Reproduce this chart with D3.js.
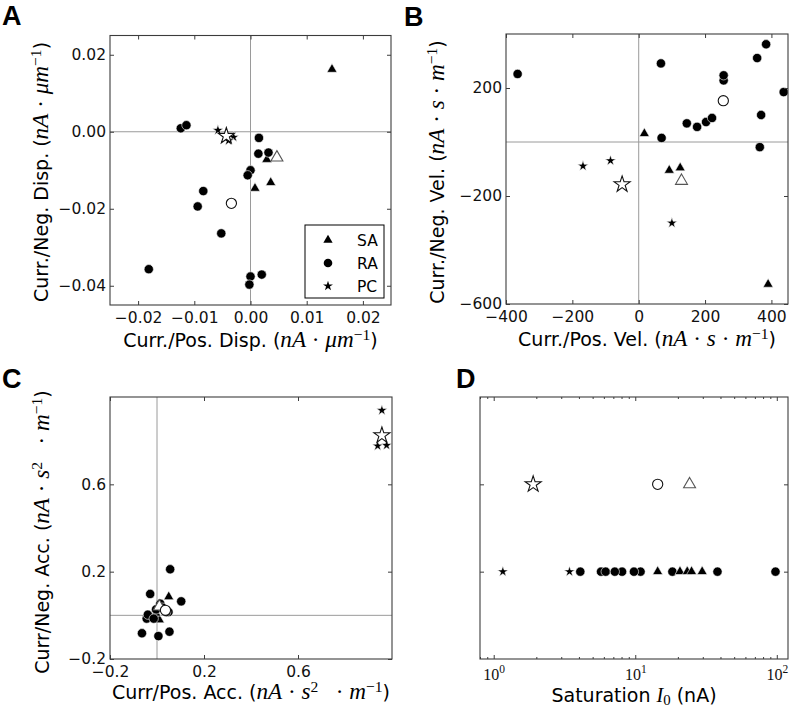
<!DOCTYPE html>
<html><head><meta charset="utf-8">
<script src="https://cdn.jsdelivr.net/npm/d3@7/dist/d3.min.js"></script>
<style>html,body{margin:0;padding:0;background:#fff}svg{display:block}</style>
</head><body>
<svg id="fig" width="790" height="710"></svg>
<script>
// ---------------- data ----------------
const groups = ["SA", "RA", "PC"];

// Panel A : current / displacement
const dispSA = [[0.0145,0.0162],[0.0029,-0.0072],[0.0036,-0.0132],[0.0008,-0.0147]];
const dispRA = [[-0.0124,0.0009],[-0.0114,0.0017],[0.0015,-0.0016],[0.0014,-0.0057],[0.0032,-0.0054],
                [0.0000,-0.0100],[-0.0005,-0.0113],[-0.0084,-0.0154],[-0.0094,-0.0194],[-0.0052,-0.0264],
                [-0.0181,-0.0357],[0.0000,-0.0376],[0.0020,-0.0371],[-0.0002,-0.0397]];
const dispPC = [[-0.0058,0.0004],[-0.0030,-0.0014],[-0.0039,-0.0023]];
const dispMeanSA = [0.0047,-0.0067];
const dispMeanRA = [-0.0034,-0.0186];
const dispMeanPC = [-0.0043,-0.0011];

// Panel B : current / velocity
const velSA = [[17,31],[92,-105],[125,-96],[390,-527]];
const velRA = [[-365,252],[67,291],[69,15],[145,69],[176,56],[203,74],[221,89],[256,228],[256,247],
               [357,311],[384,362],[437,185],[369,100],[365,-19]];
const velPC = [[-168,-89],[-85,-69],[100,-300]];
const velMeanSA = [129,-144];
const velMeanRA = [255,153];
const velMeanPC = [-50,-157];

// Panel C : current / acceleration
const accSA = [[0.050,0.085],[0.010,-0.021],[0.020,0.035],[-0.005,0.010]];
const accRA = [[0.056,0.211],[-0.029,0.098],[0.103,0.064],[-0.044,-0.015],[-0.064,-0.082],[0.006,-0.095],
               [0.053,-0.075],[0.049,0.015],[0.014,0.053],[-0.004,0.027],[-0.039,0.003],[-0.014,-0.015],
               [0.039,0.015],[0.024,0.035]];
const accPC = [[0.957,0.939],[0.939,0.776],[0.977,0.779]];
const accMeanSA = [0.010,0.040];
const accMeanRA = [0.036,0.023];
const accMeanPC = [0.957,0.824];

// Panel D : saturation current I0 (nA)
const satSA = [14.4,20.7,23.3,25.0,29.7];
const satRA = [4.09,5.73,6.18,8.07,7.17,10.9,9.79,18.3,38.1,97.9];
const satPC = [1.16,3.43];
const satMeanSA = 24.2;
const satMeanRA = 14.4;
const satMeanPC = 1.90;
const satRowAll = 0.2;
const satRowMean = 0.6;

// ticks
const aXTicks = [-0.02,-0.01,0,0.01,0.02];
const aYTicks = [0.02,0,-0.02,-0.04];
const bXTicks = [-400,-200,0,200,400];
const bYTicks = [200,-200,-600];
const cXTicks = [-0.2,0.2,0.6];
const cYTicks = [0.6,0.2,-0.2];
const dXTicks = [1,10,100];
const dXTickExp = ["0","1","2"];
const dXMinor = [0.8,0.9,2,3,4,5,6,7,8,9,20,30,40,50,60,70,80,90];
const dYTicks = [0.2,0.6];

// ---------------- drawing ----------------
const svg = d3.select("#fig");
const SANS = "'DejaVu Sans', sans-serif";
const SERIF = "'Liberation Serif', 'DejaVu Serif', serif";
const FRAME = "#3c3c3c";
const ZERO = "#9a9a9a";
const TICKFS = 15.5;
const SYM = {SA:d3.symbolTriangle, RA:d3.symbolCircle, PC:d3.symbolStar};
const SZF = {SA:44, RA:68, PC:36};
const SZO = {SA:62, RA:82, PC:80};
const defs = svg.append("defs");

function styleAxis(sel){
  sel.select(".domain").remove();
  sel.attr("font-family",SANS).attr("font-size",TICKFS).attr("color",FRAME);
  sel.selectAll(".tick text").attr("fill","#111");
  sel.selectAll(".tick line").attr("stroke-width",1);
}

function markers(parent, x, y, g, data, px, py, open){
  parent.append("g").selectAll("path").data(data).join("path")
    .attr("transform", d => `translate(${x(px(d))},${y(py(d))})`)
    .attr("d", d3.symbol().type(SYM[g]).size(open ? SZO[g] : SZF[g]))
    .attr("fill", open ? "#fff" : "#000")
    .attr("stroke", open ? (g === "SA" ? "#555" : "#111") : "#fff")
    .attr("stroke-width", open ? 1.1 : 0.6);
}

function panel(o){
  const g = svg.append("g");
  const x = o.x, y = o.y;
  const [x0,x1] = x.range(), [yb,yt] = y.range();
  const cid = "clip-" + o.name;
  defs.append("clipPath").attr("id",cid).append("rect")
    .attr("x",x0).attr("y",yt).attr("width",x1-x0).attr("height",yb-yt);
  const plot = g.append("g").attr("clip-path",`url(#${cid})`);
  if (o.zero){
    plot.append("line").attr("x1",x(0)).attr("x2",x(0)).attr("y1",yt).attr("y2",yb)
      .attr("stroke",ZERO).attr("stroke-width",1);
    plot.append("line").attr("x1",x0).attr("x2",x1).attr("y1",y(0)).attr("y2",y(0))
      .attr("stroke",ZERO).attr("stroke-width",1);
  }
  o.draw(plot, x, y);

  const bx = g.append("g").attr("transform",`translate(0,${yb})`)
    .call(d3.axisBottom(x).tickValues(o.xt).tickFormat(o.xf).tickSizeInner(-4).tickSizeOuter(0).tickPadding(6.5));
  styleAxis(bx);
  const tx = g.append("g").attr("transform",`translate(0,${yt})`)
    .call(d3.axisTop(x).tickValues(o.xt).tickFormat(() => "").tickSizeInner(-4).tickSizeOuter(0));
  styleAxis(tx);
  if (o.xminor){
    [[d3.axisBottom, yb],[d3.axisTop, yt]].forEach(([ax, yy]) => {
      const m = g.append("g").attr("transform",`translate(0,${yy})`)
        .call(ax(x).tickValues(o.xminor).tickFormat(() => "").tickSizeInner(-2).tickSizeOuter(0));
      styleAxis(m);
    });
  }
  const ly = g.append("g").attr("transform",`translate(${x0},0)`)
    .call(d3.axisLeft(y).tickValues(o.yt).tickFormat(o.yf || (() => "")).tickSizeInner(-4).tickSizeOuter(0).tickPadding(4));
  styleAxis(ly);
  const ry = g.append("g").attr("transform",`translate(${x1},0)`)
    .call(d3.axisRight(y).tickValues(o.yt).tickFormat(() => "").tickSizeInner(-4).tickSizeOuter(0));
  styleAxis(ry);

  g.append("rect").attr("x",x0).attr("y",yt).attr("width",x1-x0).attr("height",yb-yt)
    .attr("fill","none").attr("stroke",FRAME).attr("stroke-width",1.1);
  return {g, bx, x, y};
}

// rich text with math segments
const STY = {
  n:  {f:SANS,  s:1,    it:false},
  i:  {f:SERIF, s:1.22, it:true},
  i2: {f:SERIF, s:1.06, it:true},
  r:  {f:SERIF, s:1.22, it:false},
  sup:{f:SERIF, s:0.82, it:false},
  sub:{f:SERIF, s:0.78, it:false}
};
function richText(x, y, parts, rot, base){
  base = base || 19;
  const t = svg.append("text").attr("x",x).attr("y",y).attr("text-anchor","middle").attr("fill","#000");
  if (rot) t.attr("transform",`rotate(-90,${x},${y})`);
  let shift = 0;
  parts.forEach(([s,k]) => {
    let target = 0;
    if (k === "sup") target = -base*0.38;
    if (k === "sub") target = base*0.16;
    const st = STY[k];
    t.append("tspan").text(s)
      .attr("dy", target - shift)
      .attr("font-family", st.f).attr("font-size", st.s*base)
      .attr("font-style", st.it ? "italic" : "normal")
      .style("white-space","pre");
    shift = target;
  });
  t.style("white-space","pre");
  return t;
}

const f2 = d3.format(".2f"), f1 = d3.format(".1f"), f0 = d3.format("d");

// ----- Panel A -----
panel({
  name:"A",
  x: d3.scaleLinear().domain([-0.025,0.025]).range([110,391]),
  y: d3.scaleLinear().domain([-0.045,0.025]).range([305,35.5]),
  xt:aXTicks, yt:aYTicks, xf:f2, yf:f2, zero:true,
  draw:(p,x,y) => {
    markers(p,x,y,"SA",dispSA,d=>d[0],d=>d[1],false);
    markers(p,x,y,"RA",dispRA,d=>d[0],d=>d[1],false);
    markers(p,x,y,"PC",dispPC,d=>d[0],d=>d[1],false);
    markers(p,x,y,"SA",[dispMeanSA],d=>d[0],d=>d[1],true);
    markers(p,x,y,"RA",[dispMeanRA],d=>d[0],d=>d[1],true);
    markers(p,x,y,"PC",[dispMeanPC],d=>d[0],d=>d[1],true);
  }
});
// legend
const leg = svg.append("g");
leg.append("rect").attr("x",305).attr("y",225).attr("width",79).attr("height",73)
  .attr("fill","#fff").attr("stroke","#000").attr("stroke-width",1);
groups.forEach((gname,i) => {
  const yy = 240 + i*23;
  leg.append("path").attr("transform",`translate(328,${yy})`)
    .attr("d", d3.symbol().type(SYM[gname]).size(SZF[gname]*0.85)).attr("fill","#000");
  leg.append("text").attr("x",357).attr("y",yy).attr("dy","0.36em")
    .attr("font-family",SANS).attr("font-size",TICKFS).attr("fill","#000").text(gname);
});

// ----- Panel B -----
panel({
  name:"B",
  x: d3.scaleLinear().domain([-400,450]).range([506,788]),
  y: d3.scaleLinear().domain([-600,400]).range([304,34]),
  xt:bXTicks, yt:bYTicks, xf:f0, yf:f0, zero:true,
  draw:(p,x,y) => {
    markers(p,x,y,"SA",velSA,d=>d[0],d=>d[1],false);
    markers(p,x,y,"RA",velRA,d=>d[0],d=>d[1],false);
    markers(p,x,y,"PC",velPC,d=>d[0],d=>d[1],false);
    markers(p,x,y,"SA",[velMeanSA],d=>d[0],d=>d[1],true);
    markers(p,x,y,"RA",[velMeanRA],d=>d[0],d=>d[1],true);
    markers(p,x,y,"PC",[velMeanPC],d=>d[0],d=>d[1],true);
  }
});

// ----- Panel C -----
panel({
  name:"C",
  x: d3.scaleLinear().domain([-0.2,1.0]).range([110,392]),
  y: d3.scaleLinear().domain([-0.2,1.0]).range([659,397]),
  xt:cXTicks, yt:cYTicks, xf:f1, yf:f1, zero:true,
  draw:(p,x,y) => {
    markers(p,x,y,"SA",accSA,d=>d[0],d=>d[1],false);
    markers(p,x,y,"RA",accRA,d=>d[0],d=>d[1],false);
    markers(p,x,y,"PC",accPC,d=>d[0],d=>d[1],false);
    markers(p,x,y,"SA",[accMeanSA],d=>d[0],d=>d[1],true);
    markers(p,x,y,"RA",[accMeanRA],d=>d[0],d=>d[1],true);
    markers(p,x,y,"PC",[accMeanPC],d=>d[0],d=>d[1],true);
  }
});

// ----- Panel D -----
const pd = panel({
  name:"D",
  x: d3.scaleLog().domain([0.8,120]).range([480,788]),
  y: d3.scaleLinear().domain([-0.2,1.0]).range([659,397]),
  xt:dXTicks, xminor:dXMinor, yt:dYTicks, xf:d => "10", yf:null, zero:false,
  draw:(p,x,y) => {
    markers(p,x,y,"PC",satPC,d=>d,()=>satRowAll,false);
    markers(p,x,y,"RA",satRA,d=>d,()=>satRowAll,false);
    markers(p,x,y,"SA",satSA,d=>d,()=>satRowAll,false);
    markers(p,x,y,"PC",[satMeanPC],d=>d,()=>satRowMean,true);
    markers(p,x,y,"RA",[satMeanRA],d=>d,()=>satRowMean,true);
    markers(p,x,y,"SA",[satMeanSA],d=>d,()=>satRowMean,true);
  }
});
// 10^n labels
pd.bx.selectAll(".tick text").each(function(d,i){
  const t = d3.select(this);
  t.text(null).attr("dy",null).attr("y",20.5).attr("font-family",SERIF).attr("font-size",16);
  t.append("tspan").text("10");
  t.append("tspan").text(dXTickExp[i]).attr("dy",-7).attr("font-size",11.5);
});

// ----- axis labels -----
richText(250.5, 347, [["Curr./Pos. Disp. (","n"],["nA","i"],[" · ","r"],["μm","i"],["−1","sup"],[")","n"]]);
richText(48, 172, [["Curr./Neg. Disp. (","n"],["nA","i"],[" · ","r"],["μm","i"],["−1","sup"],[")","n"]], true);
richText(647, 346, [["Curr./Pos. Vel. (","n"],["nA","i"],[" · ","r"],["s","i"],[" · ","r"],["m","i"],["−1","sup"],[")","n"]]);
richText(444, 172, [["Curr./Neg. Vel. (","n"],["nA","i"],[" · ","r"],["s","i"],[" · ","r"],["m","i"],["−1","sup"],[")","n"]], true);
richText(251, 699, [["Curr/Pos. Acc. (","n"],["nA","i"],[" · ","r"],["s","i"],["2","sup"],["   · ","r"],["m","i"],["−1","sup"],[")","n"]]);
richText(49, 532, [["Curr/Neg. Acc. (","n"],["nA","i"],[" · ","r"],["s","i"],["2","sup"],["   · ","r"],["m","i"],["−1","sup"],[")","n"]], true);
richText(634, 702, [["Saturation ","n"],["I","i2"],["0","sub"],[" (nA)","n"]]);

// ----- panel letters -----
[["A",2,25],["B",404,26],["C",2,388],["D",456,388]].forEach(([s,x,y]) => {
  svg.append("text").attr("x",x).attr("y",y).attr("font-family","'Liberation Sans', Arial, sans-serif")
    .attr("font-weight","bold").attr("font-size",27).attr("fill","#000").text(s);
});
</script>
</body></html>
